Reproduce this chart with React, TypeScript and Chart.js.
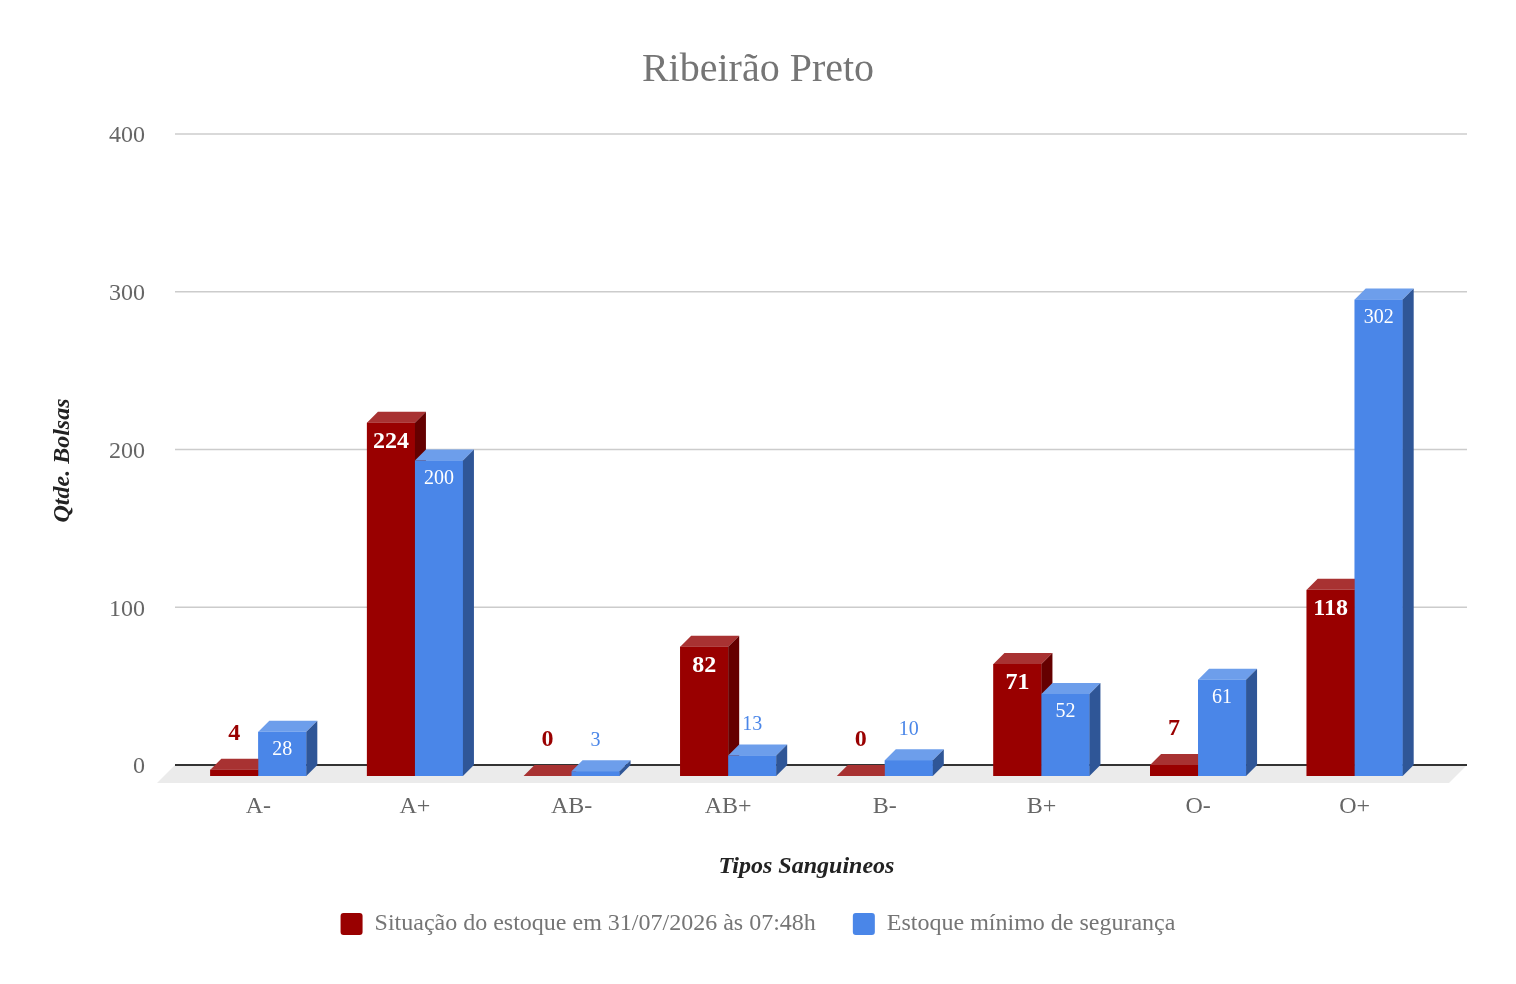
"use client"

import { useEffect, useRef } from "react"
import { Chart, registerables } from "chart.js"

Chart.register(...registerables)

const categories = ["A-", "A+", "AB-", "AB+", "B-", "B+", "O-", "O+"]
const stockValues = [4, 224, 0, 82, 0, 71, 7, 118]
const minimumValues = [28, 200, 3, 13, 10, 52, 61, 302]
const yTicks = [0, 100, 200, 300, 400]
const seriesNames = ["Situação do estoque em 31/07/2026 às 07:48h", "Estoque mínimo de segurança"]

const FONT = "'Liberation Serif', 'Times New Roman', serif"
const DEPTH = 11
const FLOOR_DEPTH = 18

// colours of the three visible faces of each series, plus label styling
const faces = [
  { front: "#990000", top: "#a83232", side: "#650000", label: "#990000", bold: true, size: 24, minInside: 36, inOffset: 19, outOffset: 36 },
  { front: "#4a86e8", top: "#6d9eeb", side: "#2f5697", label: "#4a86e8", bold: false, size: 20, minInside: 30, inOffset: 18, outOffset: 30.5 },
]

function fillPoly(ctx: CanvasRenderingContext2D, pts: number[][]) {
  ctx.beginPath()
  ctx.moveTo(pts[0][0], pts[0][1])
  for (let i = 1; i < pts.length; i++) ctx.lineTo(pts[i][0], pts[i][1])
  ctx.closePath()
  ctx.fill()
}

const bars3d = {
  id: "bars3d",
  beforeDatasetsDraw(chart: any) {
    const { ctx, chartArea, scales } = chart
    const left = chartArea.left - 5
    const right = chartArea.right + 34
    const base = scales.y.getPixelForValue(0) - DEPTH
    ctx.save()
    // floor
    ctx.fillStyle = "#ebebeb"
    fillPoly(ctx, [
      [left, base],
      [right, base],
      [right - FLOOR_DEPTH, base + FLOOR_DEPTH],
      [left - FLOOR_DEPTH, base + FLOOR_DEPTH],
    ])
    // back wall grid lines
    ctx.strokeStyle = "#cccccc"
    ctx.lineWidth = 1.5
    yTicks.slice(1).forEach((v) => {
      const y = scales.y.getPixelForValue(v) - DEPTH
      ctx.beginPath()
      ctx.moveTo(left, y)
      ctx.lineTo(right, y)
      ctx.stroke()
    })
    ctx.strokeStyle = "#333333"
    ctx.lineWidth = 2
    ctx.beginPath()
    ctx.moveTo(left, base)
    ctx.lineTo(right, base)
    ctx.stroke()
    ctx.restore()
  },
  afterDatasetsDraw(chart: any) {
    const { ctx } = chart
    const metas = [chart.getDatasetMeta(0), chart.getDatasetMeta(1)]
    ctx.save()
    // paint category by category so the right-hand bar covers the left one
    categories.forEach((_, i) => {
      metas.forEach((meta, d) => {
        const { x, y, base, width } = meta.data[i].getProps(["x", "y", "base", "width"], true)
        const c = faces[d]
        const x1 = x - width / 2
        const x2 = x + width / 2
        ctx.fillStyle = c.front
        ctx.fillRect(x1, y, width, base - y)
        ctx.fillStyle = c.top
        fillPoly(ctx, [
          [x1, y],
          [x2, y],
          [x2 + DEPTH, y - DEPTH],
          [x1 + DEPTH, y - DEPTH],
        ])
        ctx.fillStyle = c.side
        fillPoly(ctx, [
          [x2, y],
          [x2 + DEPTH, y - DEPTH],
          [x2 + DEPTH, base - DEPTH],
          [x2, base],
        ])
      })
    })
    // value labels
    ctx.textAlign = "center"
    ctx.textBaseline = "middle"
    metas.forEach((meta, d) => {
      const c = faces[d]
      const values = chart.data.datasets[d].data
      ctx.font = `${c.bold ? "bold " : ""}${c.size}px ${FONT}`
      meta.data.forEach((bar: any, i: number) => {
        const { x, y, base } = bar.getProps(["x", "y", "base"], true)
        const inside = base - y >= c.minInside
        ctx.fillStyle = inside ? "#ffffff" : c.label
        ctx.fillText(String(values[i]), x, inside ? y + c.inOffset : y - c.outOffset)
      })
    })
    ctx.restore()
  },
}

export default function App() {
  const chartRef = useRef<HTMLCanvasElement>(null)
  const chartInstance = useRef<Chart | null>(null)

  useEffect(() => {
    document.body.style.margin = "0"
    if (!chartRef.current) return
    const ctx = chartRef.current.getContext("2d")
    if (!ctx) return

    if (chartInstance.current) {
      chartInstance.current.destroy()
    }

    chartInstance.current = new Chart(ctx, {
      type: "bar",
      data: {
        labels: categories,
        datasets: [
          {
            label: seriesNames[0],
            data: stockValues,
            backgroundColor: faces[0].front,
            borderWidth: 0,
            categoryPercentage: 0.613,
            barPercentage: 1,
            yAxisID: "y",
          },
          {
            label: seriesNames[1],
            data: minimumValues,
            backgroundColor: faces[1].front,
            borderWidth: 0,
            categoryPercentage: 0.613,
            barPercentage: 1,
            yAxisID: "y",
          },
        ],
      },
      options: {
        responsive: true,
        maintainAspectRatio: false,
        animation: false,
        layout: {
          padding: { top: 0, left: 0, right: 0, bottom: 38 },
        },
        plugins: {
          title: {
            display: true,
            text: "Ribeirão Preto",
            color: "#757575",
            font: { family: FONT, size: 40, weight: "normal" },
            padding: { top: 46, bottom: 51 },
          },
          legend: {
            position: "bottom",
            labels: {
              color: "#757575",
              font: { family: FONT, size: 24 },
              boxWidth: 22,
              boxHeight: 22,
              padding: 37,
              useBorderRadius: true,
              borderRadius: 3,
            },
          },
          tooltip: { enabled: false },
        },
        scales: {
          x: {
            grid: { display: false, drawTicks: false },
            border: { display: false },
            ticks: {
              color: "#666666",
              font: { family: FONT, size: 24 },
              padding: 16,
            },
            title: {
              display: true,
              text: "Tipos Sanguineos",
              color: "#222222",
              font: { family: FONT, size: 24, weight: "bold", style: "italic" },
              padding: { top: 0, bottom: -6 },
            },
            afterFit: (scale: any) => {
              scale.height = 99
            },
          },
          y: {
            min: 0,
            max: 400,
            grid: { display: false, drawTicks: false },
            border: { display: false },
            afterBuildTicks: (scale: any) => {
              scale.ticks = yTicks.map((value) => ({ value }))
            },
            ticks: {
              color: "#666666",
              font: { family: FONT, size: 24 },
              padding: 35,
              labelOffset: -9,
            },
            title: {
              display: true,
              text: "Qtde. Bolsas",
              color: "#222222",
              font: { family: FONT, size: 24, weight: "bold", style: "italic" },
              padding: { top: 48, bottom: 0 },
            },
            afterFit: (scale: any) => {
              scale.width = 180
            },
          },
          right: {
            type: "linear",
            position: "right",
            grid: { display: false, drawTicks: false },
            border: { display: false },
            ticks: { display: false },
            afterFit: (scale: any) => {
              scale.width = 83
            },
          },
        },
      },
      plugins: [bars3d],
    } as any)

    return () => {
      if (chartInstance.current) {
        chartInstance.current.destroy()
        chartInstance.current = null
      }
    }
  }, [])

  return (
    <div style={{ position: "relative", width: 1516, height: 984 }}>
      <canvas ref={chartRef} />
    </div>
  )
}
